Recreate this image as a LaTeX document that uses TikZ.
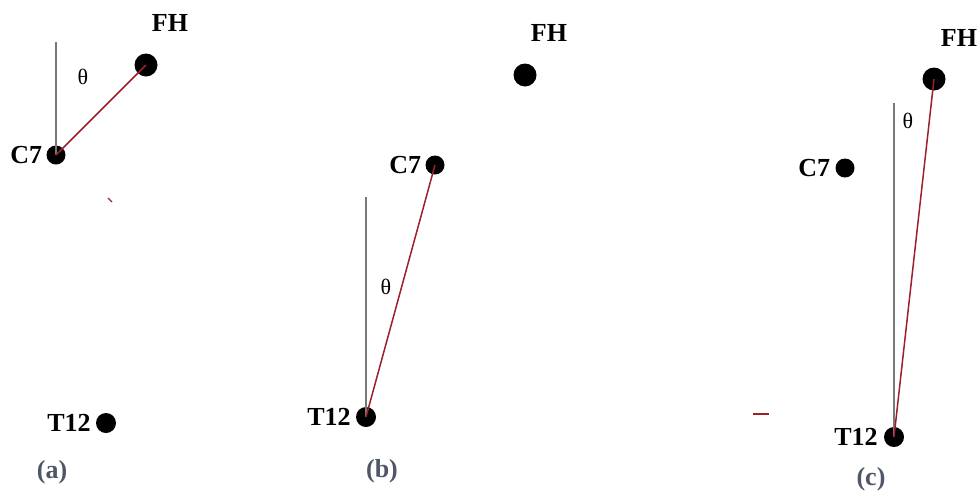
\documentclass[tikz,border=0pt]{standalone}
\usepackage{fontspec}
\setmainfont{Liberation Serif}
\usetikzlibrary{positioning}
\definecolor{segred}{RGB}{155,32,42}
\definecolor{plumb}{RGB}{120,120,120}
\definecolor{capgray}{RGB}{78,86,104}
\tikzset{
  dot/.style={
    circle,
    fill=black,
    inner sep=0pt,
    minimum size=19pt
  },
  bigdot/.style={dot, minimum size=23pt},
  lbl/.style={inner sep=0pt, font=\fontsize{26}{30}\selectfont\bfseries},
  ang/.style={inner sep=0pt, font=\fontsize{22}{26}\selectfont},
  panelcap/.style={inner sep=0pt, text=capgray, font=\fontsize{26}{30}\selectfont\bfseries},
  seg/.style={draw=segred, line width=1.5pt},
  plumbline/.style={draw=plumb, line width=1.1pt},
  stray/.style={draw=segred, line width=1.2pt}
}

\begin{document}
\begin{tikzpicture}[x=1pt, y=-1pt]
  \useasboundingbox (0,0) rectangle (977,491);
  % (a)
  \node[bigdot] (fhA) at (146,65) {};
  \node[dot] (cA) at (56,155) {};
  \node[dot, minimum size=20pt] (tA) at (106,423) {};
  \node[lbl] (fhAl) at (170,23) {FH};
  \node[lbl, left=4pt of cA] (cAl) {C7};
  \node[lbl, left=5pt of tA] (tAl) {T12};
  \node[ang] (thA) at (83,77) {θ};
  \node[panelcap] (capA) at (52,472) {(a)};
  \coordinate (topA) at (56,42);
  \draw[plumbline] (cA.center) -- (topA);
  \draw[seg] (cA.center) -- (fhA.center);
  \draw[stray] (108,198) -- (112,202);
  % (b)
  \node[bigdot] (fhB) at (525,75) {};
  \node[dot] (cB) at (435,165) {};
  \node[dot, minimum size=20pt] (tB) at (366,417) {};
  \node[lbl] (fhBl) at (549,33) {FH};
  \node[lbl, left=4pt of cB] (cBl) {C7};
  \node[lbl, left=5pt of tB] (tBl) {T12};
  \node[ang] (thB) at (386,287) {θ};
  \node[panelcap] (capB) at (382,471) {(b)};
  \coordinate (topB) at (366,197);
  \draw[plumbline] (tB.center) -- (topB);
  \draw[seg] (tB.center) -- (cB.center);
  % (c)
  \node[bigdot] (fhC) at (934,79) {};
  \node[dot] (cC) at (845,168) {};
  \node[dot, minimum size=20pt] (tC) at (894,437) {};
  \node[lbl] (fhCl) at (959,38) {FH};
  \node[lbl, left=5pt of cC] (cCl) {C7};
  \node[lbl, left=6pt of tC] (tCl) {T12};
  \node[ang] (thC) at (908,121) {θ};
  \node[panelcap] (capC) at (871,479) {(c)};
  \coordinate (topC) at (894,103);
  \draw[plumbline] (tC.center) -- (topC);
  \draw[seg] (tC.center) -- (fhC.center);
  \draw[stray] (753,414) -- (769,414);
\end{tikzpicture}
\end{document}
